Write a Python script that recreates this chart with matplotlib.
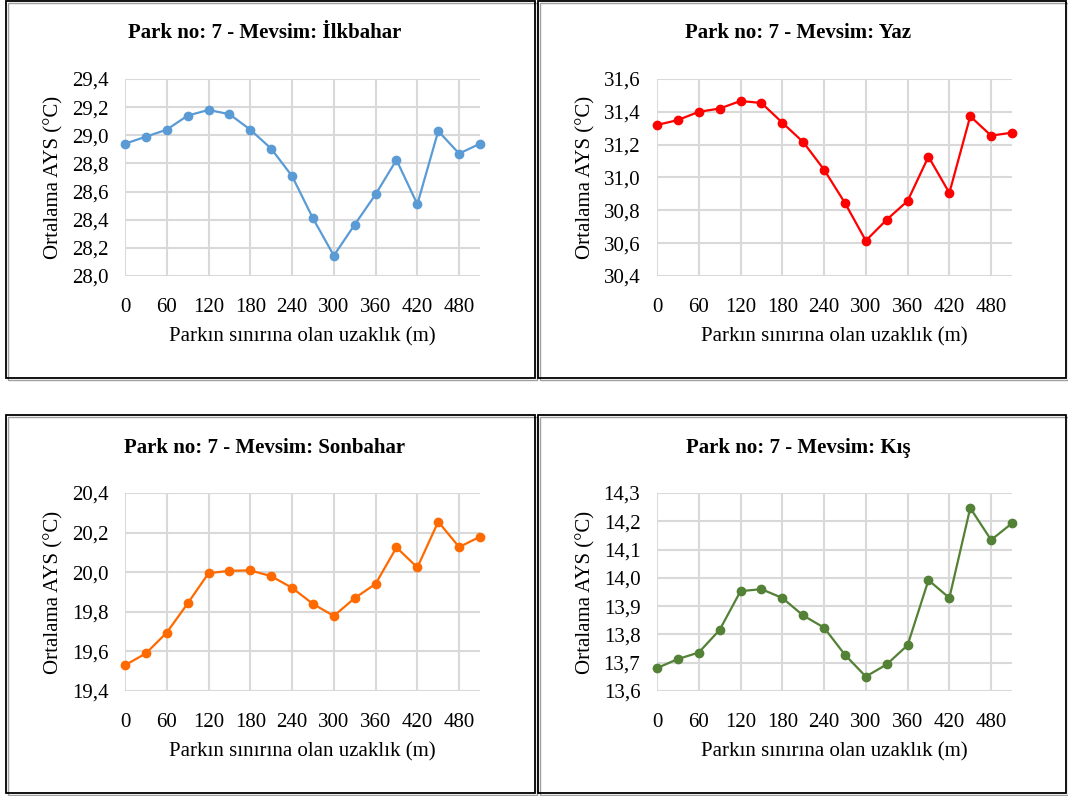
import matplotlib
matplotlib.use("Agg")
import matplotlib.pyplot as plt
from matplotlib.patches import Rectangle

plt.rcParams["font.family"] = ["Liberation Serif", "DejaVu Serif"]

# Data
distance = [0, 30, 60, 90, 120, 150, 180, 210, 240, 270, 300, 330, 360, 390, 420, 450, 480, 510]
x_ticks = [0, 60, 120, 180, 240, 300, 360, 420, 480]

spring = [28.94, 28.99, 29.04, 29.14, 29.18, 29.15, 29.04, 28.905, 28.71, 28.41,
          28.145, 28.365, 28.58, 28.825, 28.51, 29.03, 28.87, 28.94]
summer = [31.32, 31.35, 31.40, 31.42, 31.466, 31.454, 31.334, 31.216, 31.048, 30.845,
          30.615, 30.743, 30.857, 31.127, 30.906, 31.373, 31.255, 31.273]
autumn = [19.53, 19.59, 19.695, 19.842, 19.995, 20.007, 20.009, 19.98, 19.921, 19.84,
          19.779, 19.869, 19.941, 20.125, 20.024, 20.255, 20.127, 20.179]
winter = [13.681, 13.713, 13.736, 13.816, 13.953, 13.960, 13.929, 13.867, 13.824, 13.728,
          13.651, 13.694, 13.762, 13.992, 13.929, 14.247, 14.134, 14.193]

titles = ["Park no: 7 - Mevsim: İlkbahar", "Park no: 7 - Mevsim: Yaz",
          "Park no: 7 - Mevsim: Sonbahar", "Park no: 7 - Mevsim: Kış"]
series = [spring, summer, autumn, winter]
colors = ["#5B9BD5", "#FF0000", "#FF6A00", "#538135"]
y_ranges = [(28.0, 29.4, 0.2), (30.4, 31.6, 0.2), (19.4, 20.4, 0.2), (13.6, 14.3, 0.1)]

W, H = 1068, 796
fig = plt.figure(figsize=(W / 100, H / 100), dpi=100)


def fx(px):
    return px / W


def fy(py):
    return 1 - py / H


# panel boxes (left, top, right, bottom) in pixels
boxes = [(6, 1, 535, 378), (538, 1, 1066, 378), (6, 415, 535, 793), (538, 415, 1066, 793)]
# plot areas
areas = [(125, 79, 480, 276), (657, 79, 1012, 276), (125, 493, 480, 691), (657, 493, 1012, 691)]
title_pos = [(265, 33), (798, 33), (265, 448), (798, 448)]

for i in range(4):
    l, t, r, b = boxes[i]
    # shadow
    fig.patches.append(Rectangle((fx(l + 1.5), fy(b + 1.5)), fx(r - l), (b - t) / H,
                                 transform=fig.transFigure, fill=False,
                                 edgecolor="#A0A0A0", lw=1.0, zorder=0))
    fig.patches.append(Rectangle((fx(l), fy(b)), fx(r - l), (b - t) / H,
                                 transform=fig.transFigure, fill=False,
                                 edgecolor="black", lw=1.3, zorder=1))

    l, t, r, b = areas[i]
    ax = fig.add_axes([fx(l), fy(b), fx(r - l), (b - t) / H])
    ax.plot(distance, series[i], color=colors[i], lw=1.6, marker="o", markersize=6,
            zorder=3, clip_on=False)

    lo, hi, step = y_ranges[i]
    n = int(round((hi - lo) / step))
    yt = [lo + k * step for k in range(n + 1)]
    ax.set_ylim(lo, hi)
    ax.set_yticks(yt)
    ax.set_yticklabels([f"{v:.1f}".replace(".", ",") for v in yt])
    ax.set_xlim(0, 510)
    ax.set_xticks(x_ticks)
    ax.set_xticklabels([str(v) for v in x_ticks])

    ax.grid(True, color="#D9D9D9", lw=1.5)
    ax.set_axisbelow(True)
    for s in ax.spines.values():
        s.set_visible(False)
    ax.tick_params(length=0, labelsize=15)
    ax.tick_params(axis="y", pad=12)
    ax.tick_params(axis="x", pad=16)

    ax.set_xlabel("Parkın sınırına olan uzaklık (m)", fontsize=15, labelpad=7)
    ax.set_ylabel("Ortalama AYS (°C)", fontsize=15, labelpad=6)

    tx, ty = title_pos[i]
    fig.text(fx(tx), fy(ty), titles[i], ha="center", va="center",
             fontsize=15, fontweight="bold")

fig.savefig("out.png", dpi=100)
